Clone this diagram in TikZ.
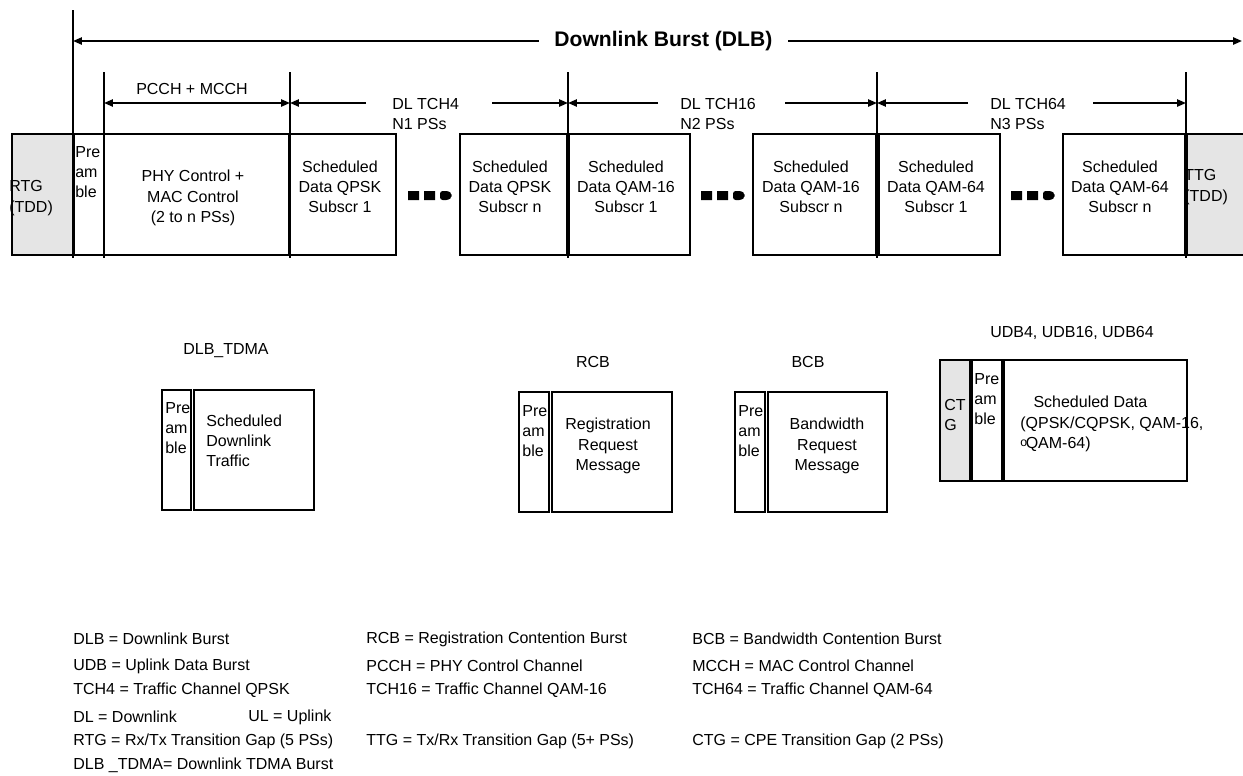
\documentclass[tikz,border=0pt]{standalone}
\usepackage{fontspec}
\setmainfont{Liberation Sans}
\usetikzlibrary{arrows.meta}
\definecolor{gapgray}{gray}{0.9}
\tikzset{
  box/.style={draw, line width=1.1pt},
  gapbox/.style={box, fill=gapgray},
  sepline/.style={line width=1.3pt},
  dim/.style={line width=1.1pt},
  txt/.style={inner sep=0pt, align=left, anchor=west},
  ctxt/.style={inner sep=0pt, align=center},
  legend/.style={inner sep=0pt, anchor=west},
  moredots/.pic={
    \fill (0,-4.5) rectangle (11,4.5) (16,-4.5) rectangle (27,4.5);
    \fill[rounded corners=1.5pt] (32,-4.5) -- (41,-4.5) -- (43.5,-1.5) -- (43.5,1.5) -- (41,4.5) -- (32,4.5) -- cycle;
  }
}
\begin{document}
\begin{tikzpicture}[x=0.02cm, y=-0.02cm, font=\fontsize{9.1}{11.5}\selectfont, >={Triangle[length=5pt,width=4pt]}]
  \useasboundingbox (0,0) rectangle (1243,775);
  % downlink burst frame
  \draw[gapbox] (12,134) rectangle (73,255);
  \draw[box] (74,134) rectangle (104,255);
  \foreach \a/\b in {104/289, 290/396, 460/567, 569/690, 753/876, 879/1000, 1063/1185}
    \draw[box] (\a,134) rectangle (\b,255);
  \draw[gapbox] (1187,134) rectangle (1262,255);
  \pic at (408,195.5) {moredots};
  \pic at (701,195.5) {moredots};
  \pic at (1011,195.5) {moredots};
  % boundaries
  \coordinate (base) at (0,258);
  \coordinate (v0) at (73,10);
  \coordinate (v1) at (104,72);
  \coordinate (v2) at (290,72);
  \coordinate (v3) at (568,72);
  \coordinate (v4) at (877,72);
  \coordinate (v5) at (1186,72);
  \foreach \v in {v0,v1,v2,v3,v4,v5}
    \draw[sepline] (\v) -- (\v |- base);
  % dimension arrows
  \coordinate (dlbR) at (1242,41);
  \coordinate (arr) at (0,103);
  \draw[dim,<->] (v0 |- dlbR) -- (dlbR)
    node[pos=0.505, fill=white, inner xsep=9pt, font=\bfseries\fontsize{12}{14}\selectfont] (dlb) {Downlink Burst (DLB)};
  \draw[dim,<->] (v1 |- arr) -- (v2 |- arr);
  \node[ctxt] (pcch) at (192,89) {PCCH + MCCH};
  \coordinate (t4a) at (366,103);  \coordinate (t4b) at (492,103);
  \coordinate (t16a) at (658,103); \coordinate (t16b) at (785,103);
  \coordinate (t64a) at (968,103); \coordinate (t64b) at (1093,103);
  \draw[dim,->] (t4a) -- (v2 |- arr);  \draw[dim,->] (t4b) -- (v3 |- arr);
  \draw[dim,->] (t16a) -- (v3 |- arr); \draw[dim,->] (t16b) -- (v4 |- arr);
  \draw[dim,->] (t64a) -- (v4 |- arr); \draw[dim,->] (t64b) -- (v5 |- arr);
  \node[txt] (tch4) at (392,114) {DL TCH4\\N1 PSs};
  \node[txt] (tch16) at (680,114) {DL TCH16\\N2 PSs};
  \node[txt] (tch64) at (990,114) {DL TCH64\\N3 PSs};
  % texts in the frame
  \node[txt] (rtg) at (9,198) {RTG\\(TDD)};
  \node[txt] (pre) at (75,172) {Pre\\am\\ble};
  \node[ctxt] (phy) at (193,198) {PHY Control +\\MAC Control\\(2 to n PSs)};
  \node[ctxt] (qpsk1) at (340,187) {Scheduled\\Data QPSK\\Subscr 1};
  \node[ctxt] (qpskn) at (510,187) {Scheduled\\Data QPSK\\Subscr n};
  \node[ctxt] (qam16a) at (626,187) {Scheduled\\Data QAM-16\\Subscr 1};
  \node[ctxt] (qam16n) at (811,187) {Scheduled\\Data QAM-16\\Subscr n};
  \node[ctxt] (qam64a) at (936,187) {Scheduled\\Data QAM-64\\Subscr 1};
  \node[ctxt] (qam64n) at (1120,187) {Scheduled\\Data QAM-64\\Subscr n};
  \begin{scope}
    \clip (1188,134) rectangle (1243,255);
    \node[txt] (ttg) at (1184,187) {TTG\\(TDD)};
  \end{scope}
  % DLB_TDMA
  \node[ctxt] (tdma) at (226,351) {DLB\_TDMA};
  \draw[box] (162,390) rectangle (191,510);
  \draw[box] (194,390) rectangle (314,510);
  \node[txt] (tdmapre) at (165,428) {Pre\\am\\ble};
  \node[txt] (tdmadata) at (206,441) {Scheduled\\Downlink\\Traffic};
  % RCB
  \node[ctxt] (rcb) at (593,362) {RCB};
  \draw[box] (519,392) rectangle (549,512);
  \draw[box] (552,392) rectangle (672,512);
  \node[txt] (rcbpre) at (522,431) {Pre\\am\\ble};
  \node[ctxt] (rcbmsg) at (608,446) {Registration\\Request\\Message};
  % BCB
  \node[ctxt] (bcb) at (808,362) {BCB};
  \draw[box] (735,392) rectangle (765,512);
  \draw[box] (768,392) rectangle (887,512);
  \node[txt] (bcbpre) at (738,431) {Pre\\am\\ble};
  \node[ctxt] (bcbmsg) at (827,446) {Bandwidth\\Request\\Message};
  % UDB
  \node[ctxt] (udb) at (1072,333) {UDB4, UDB16, UDB64};
  \draw[gapbox] (940,360) rectangle (970,481);
  \draw[box] (972,360) rectangle (1002,481);
  \draw[box] (1004,360) rectangle (1187,481);
  \node[txt] (ctg) at (944,415) {CT\\G};
  \node[txt] (udbpre) at (974,399) {Pre\\am\\ble};
  \node[txt] (udbdata) at (1020,424) {\hspace*{7.5pt}Scheduled Data\\(QPSK/CQPSK, QAM-16,\\\raisebox{1.2pt}{\fontsize{7}{7}\selectfont o}\kern-0.8pt QAM-64)};
  % legend
  \foreach \y/\t [count=\i] in {639/{DLB = Downlink Burst}, 666/{UDB = Uplink Data Burst},
      690/{TCH4 = Traffic Channel QPSK}, 717/{DL = Downlink}, 741/{RTG = Rx/Tx Transition Gap (5 PSs)},
      765/{DLB \_TDMA= Downlink TDMA Burst}}
    \node[legend] (la\i) at (73,\y) {\t};
  \node[legend] (ul) at (248,717) {UL = Uplink};
  \foreach \y/\t [count=\i] in {639/{RCB = Registration Contention Burst}, 666/{PCCH = PHY Control Channel},
      690/{TCH16 = Traffic Channel QAM-16}, 741/{TTG = Tx/Rx Transition Gap (5+ PSs)}}
    \node[legend] (lb\i) at (366,\y) {\t};
  \foreach \y/\t [count=\i] in {639/{BCB = Bandwidth Contention Burst}, 666/{MCCH = MAC Control Channel},
      690/{TCH64 = Traffic Channel QAM-64}, 741/{CTG = CPE Transition Gap (2 PSs)}}
    \node[legend] (lc\i) at (692,\y) {\t};
\end{tikzpicture}
\end{document}
